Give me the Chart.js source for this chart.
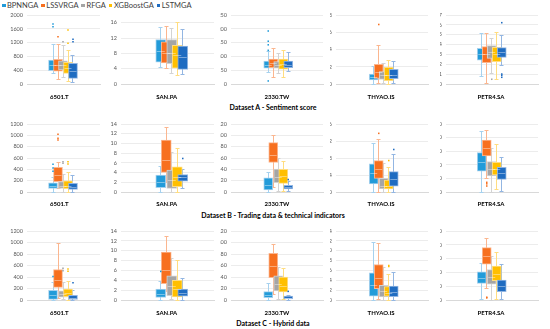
<!DOCTYPE html>
<html><head><meta charset="utf-8">
<script src="https://cdn.jsdelivr.net/npm/chart.js@4.4.0/dist/chart.umd.min.js"></script>
<style>
body{margin:0;width:550px;height:329px;background:#fff;position:relative;overflow:hidden;font-family:Lato,"Open Sans",sans-serif}
canvas{position:absolute}
#legend{position:absolute;left:2px;top:1px;height:10px;display:flex;gap:3px;font-size:7.5px;line-height:10px;color:#404040;white-space:nowrap}
#legend i{display:inline-block;width:3.5px;height:3.5px;margin-right:1.5px;vertical-align:1px}
.ttl{position:absolute;left:0;width:546px;text-align:center;font-weight:bold;font-size:7px;line-height:9px;color:#000}
</style></head><body>
<div id="legend"></div>
<script>
// ---------- data ----------
const models = ['BPNNGA','LSSVRGA','RFGA','XGBoostGA','LSTMGA'];
const stocks = ['6501.T','SAN.PA','2330.TW','THYAO.IS','PETR4.SA'];
const datasetTitles = ['Dataset A - Sentiment score','Dataset B - Trading data & technical indicators','Dataset C - Hybrid data'];

// y-axis tick ranges per row (max, step) for each stock
const yMaxA = [2000, 18, 250, 8, 7];     const yStepA = [200, 2, 50, 1, 1];
const yMaxB = [1200, 14, 120, 1.6, 5.0]; const yStepB = [200, 2, 20, 0.2, 0.5];
const yMaxC = [1200, 14, 120, 1.4, 5.0]; const yStepC = [200, 2, 20, 0.2, 0.5];

// box stats per model: [min, q1, median, q3, max]
const A_6501 = [[310,386,560,696,1160],[135,375,540,715,1150],[210,405,540,675,1140],[80,310,470,630,985],[65,165,380,600,840]];
const A_6501_out = [[1740,1660],[1370],[1225],[1565,1180],[1295,1225]];
const A_SAN = [[4.5,5.7,8.5,11.6,14.9],[4.3,5.5,8.0,11.0,15.2],[2.8,5.3,8.0,11.6,14.7],[2.3,4.1,7.5,10.1,16.2],[2.6,3.8,7.0,9.9,14.4]];
const A_SAN_out = [[],[],[],[],[]];
const A_2330 = [[45,57,70,83,118],[24,59,75,90,129],[41,57,68,81,111],[24,54,72,90,123],[47,59,70,83,115]];
const A_2330_out = [[192,155,142,122,11],[],[],[],[]];
const A_THY = [[0,0.46,0.8,1.16,2.1],[0.1,0.66,1.4,2.28,4.5],[0.1,0.54,1.0,1.43,2.47],[0.05,0.39,1.1,1.93,2.78],[0.1,0.62,1.1,1.7,2.7]];
const A_THY_out = [[],[6.9],[],[],[]];
const A_PETR = [[0.81,2.43,3.0,3.62,5.14],[0.07,2.16,3.0,3.79,5.14],[1.08,2.6,3.2,3.89,4.63],[0.54,2.27,3.0,3.72,5.3],[1.93,2.7,3.2,3.69,4.97]];
const A_PETR_out = [[],[],[0.48],[],[6.22,1.01,0.88,0.68]];

const B_6501 = [[5,65,110,164,270],[65,182,300,435,535],[5,65,110,182,312],[5,60,110,199,347],[5,47,90,153,300]];
const B_6501_out = [[490,425,365],[1018,947,917],[535,506],[535,494],[]];
const B_SAN = [[0.07,0.9,2.0,3.5,5.35],[2.0,4.05,6.5,10.7,13.3],[0.05,0.75,2.5,4.5,8.3],[0.05,1.1,3.0,5.2,9.0],[0.75,2.25,3.0,3.6,4.7]];
const B_SAN_out = [[],[],[],[],[6.9]];
const B_2330 = [[0.5,3.5,12,25,36],[9,52,65,87,100],[1,16.5,27,40.6,59.4],[1,15.3,28,40,54.7],[1.5,5.3,8,11.8,19]];
const B_2330_out = [[],[],[],[],[22]];
const B_THY = [[0,0.19,0.45,0.66,1.15],[0,0.32,0.55,0.74,1.24],[0,0.07,0.15,0.32,0.69],[0,0.07,0.15,0.28,0.58],[0,0.14,0.3,0.48,0.89]];
const B_THY_out = [[],[1.38],[],[0.74],[1.0]];
const B_PETR = [[0,1.54,2.2,2.89,4.49],[1.0,2.65,3.2,3.82,4.56],[0,1.18,1.7,2.23,3.26],[0.19,1.25,1.7,2.18,3.5],[0.07,0.93,1.4,1.81,2.6]];
const B_PETR_out = [[],[0.71,0.6,0.44],[],[],[]];

const C_6501 = [[0,10,90,170,320],[40,220,340,530,990],[10,50,100,160,310],[0,60,120,190,330],[0,10,40,80,170]];
const C_6501_out = [[410],[],[550,510],[540,500],[300]];
const C_SAN = [[0,0.5,1.2,2.2,3.8],[1.8,3.3,6,9.7,13.0],[0.2,0.9,2.8,4.9,8.5],[0.1,0.6,2.3,4.0,8.1],[0,0.8,1.5,2.2,4.4]];
const C_SAN_out = [[5.8],[],[],[],[]];
const C_2330 = [[0,4,8,14.5,29],[10,39,60,81,97],[2,16,28,42,58],[1,14,25,40,55],[0,2,4,7,9]];
const C_2330_out = [[],[],[],[],[15]];
const C_THY = [[0,0.08,0.3,0.55,1.17],[0.03,0.23,0.45,0.72,1.15],[0,0.06,0.18,0.3,0.67],[0,0.08,0.15,0.27,0.53],[0,0.07,0.17,0.28,0.57]];
const C_THY_out = [[],[],[],[0.7,0.68],[]];
const C_PETR = [[0.05,1.2,1.6,2.05,2.7],[0.85,2.6,3.2,3.8,4.5],[0,1.15,1.7,2.2,3.2],[0.1,1.4,1.9,2.45,3.45],[0.1,0.6,1.0,1.45,2.6]];
const C_PETR_out = [[],[0.2,0.15],[],[],[]];

const rowStats = [[A_6501,A_SAN,A_2330,A_THY,A_PETR],[B_6501,B_SAN,B_2330,B_THY,B_PETR],[C_6501,C_SAN,C_2330,C_THY,C_PETR]];
const rowOuts = [[A_6501_out,A_SAN_out,A_2330_out,A_THY_out,A_PETR_out],[B_6501_out,B_SAN_out,B_2330_out,B_THY_out,B_PETR_out],[C_6501_out,C_SAN_out,C_2330_out,C_THY_out,C_PETR_out]];
const rowYMax = [yMaxA, yMaxB, yMaxC];
const rowYStep = [yStepA, yStepB, yStepC];

// ---------- styles / layout ----------
const colors = ['#229BD9','#F7701F','#A5A5A5','#FFBF00','#1F6CC1'];
const tints  = ['#a6d1ee','#fbb68f','#d3d3d3','#ffdd80','#93b6e2'];
const colLeft = [0,110,220,330,440];
const gridL = [27,121,231,336,446];
const gridR = [100,214,323,428,538];
const firstBox = [42.5,154,259.5,365.5,471.5];
const boxPitch = [10,11,10,10,10];
const boxW = [9,10,9,9,9];
const labelX = [55,166,277,380,490];
const rowTop = [8,117,224];
const rowH = [96,95,96];
const rowZero = [76,75,76];
const labelPad = [9,8,9];
const titleY = [107,215,323];

// legend + titles (HTML text)
const lg=document.getElementById('legend');
models.forEach((m,i)=>{
  const d=document.createElement('span');
  d.innerHTML='<i style="background:'+colors[i]+'"></i>'+m; lg.appendChild(d);
});
datasetTitles.forEach((t,r)=>{
  const d=document.createElement('div'); d.className='ttl'; d.style.top=(titleY[r]-4.5)+'px'; d.textContent=t; document.body.appendChild(d);
});

// whiskers + caps (behind boxes) and median lines (on top), positioned through the chart scales
const boxExtras = {
  id:'boxExtras',
  beforeDatasetsDraw(chart, args, opts){
    const {ctx, scales:{x,y}} = chart;
    ctx.save(); ctx.lineWidth=1;
    opts.stats.forEach((s,i)=>{
      const px = Math.floor(x.getPixelForValue(i))+0.5;
      const yMin = Math.round(y.getPixelForValue(s[0]))+0.5;
      const yMax = Math.round(y.getPixelForValue(s[4]))+0.5;
      ctx.strokeStyle = tints[i];
      ctx.beginPath();
      ctx.moveTo(px,yMin); ctx.lineTo(px,yMax);
      ctx.moveTo(px-2,yMin); ctx.lineTo(px+2,yMin);
      ctx.moveTo(px-2,yMax); ctx.lineTo(px+2,yMax);
      ctx.stroke();
    });
    ctx.restore();
  },
  afterDatasetsDraw(chart, args, opts){
    const {ctx, scales:{x,y}} = chart;
    ctx.save(); ctx.lineWidth=1; ctx.strokeStyle='rgba(255,255,255,0.4)';
    opts.stats.forEach((s,i)=>{
      const px = x.getPixelForValue(i);
      const pm = Math.round(y.getPixelForValue(s[2]))+0.5;
      ctx.beginPath(); ctx.moveTo(px-opts.bw/2+1,pm); ctx.lineTo(px+opts.bw/2-1,pm); ctx.stroke();
    });
    ctx.restore();
  }
};

function fmt(v, step){ return step < 1 ? Number(v).toFixed(1) : String(Math.round(v)); }

for (let r=0;r<3;r++){
  for (let c=0;c<5;c++){
    const cv=document.createElement('canvas');
    cv.width=110; cv.height=rowH[r];
    cv.style.left=colLeft[c]+'px'; cv.style.top=rowTop[r]+'px';
    cv.style.width='110px'; cv.style.height=rowH[r]+'px';
    document.body.appendChild(cv);
    const stats=rowStats[r][c], outs=rowOuts[r][c];
    const gl=gridL[c], gr=gridR[c], pitch=boxPitch[c];
    const xmin=-(firstBox[c]-gl)/pitch, xmax=xmin+(gr-gl)/pitch;
    const labelVal=xmin+(labelX[c]-gl)/pitch;
    const step=rowYStep[r][c];
    const datasets=[
      {type:'bar',label:'IQR',data:stats.map((s,i)=>({x:i,y:[s[1],s[3]]})),
       backgroundColor:colors,borderColor:tints,borderWidth:1,borderSkipped:false,
       barThickness:boxW[c],order:2}
    ];
    models.forEach((m,i)=>{
      if(outs[i].length) datasets.push({type:'scatter',label:m+' outliers',data:outs[i].map(v=>({x:i,y:v})),pointStyle:'rect',radius:1.1,backgroundColor:colors[i],borderWidth:0,order:1});
    });
    new Chart(cv,{
      type:'bar',
      data:{datasets},
      options:{
        responsive:false, animation:false, devicePixelRatio:1,
        layout:{padding:{left:0,right:colLeft[c]+110-gr,top:7,bottom:0}},
        plugins:{legend:{display:false},tooltip:{enabled:false},boxExtras:{stats,bw:boxW[c]}},
        scales:{
          x:{type:'linear',min:xmin,max:xmax,bounds:'data',
             grid:{display:false,drawTicks:false,tickLength:0},
             border:{display:true,color:'#d9d9d9',width:1},
             afterBuildTicks:s=>{s.ticks=[{value:labelVal}];},
             afterFit:s=>{s.height=rowH[r]-rowZero[r]; s.paddingLeft=0; s.paddingRight=0;},
             ticks:{autoSkip:false,maxRotation:0,padding:labelPad[r],color:'#000',font:{family:'Lato',size:6,weight:'bold'},callback:()=>stocks[c]}},
          y:{min:0,max:rowYMax[r][c],
             grid:{color:'#e7e7e7',lineWidth:0.8,drawTicks:false,tickLength:0},
             border:{display:false},
             afterFit:s=>{s.width=gl-colLeft[c]; s.paddingTop=0; s.paddingBottom=0;},
             ticks:{stepSize:step,padding:4,color:'#595959',font:{family:'Lato',size:5.5},callback:v=>fmt(v,step)}}
        }
      },
      plugins:[boxExtras]
    });
  }
}
</script>
</body></html>
